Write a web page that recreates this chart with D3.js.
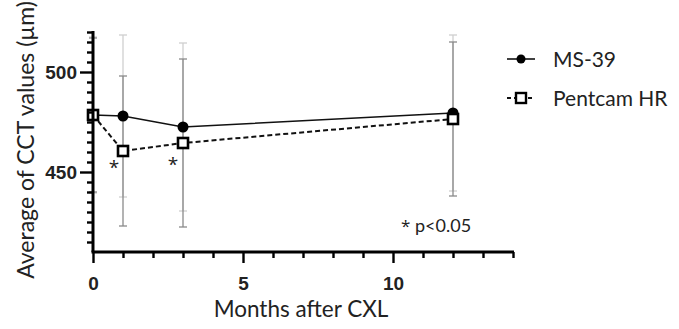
<!DOCTYPE html>
<html>
<head>
<meta charset="utf-8">
<script src="https://cdn.jsdelivr.net/npm/d3@7"></script>
<style>
  body { margin: 0; background: #fff; }
  svg { display: block; font-family: Lato, "Open Sans", sans-serif; }
</style>
</head>
<body>
<div id="chart"></div>
<script>
// values
const months = [0, 1, 3, 12];
const ms39Mean = [478.5, 478, 472.5, 479.5];
const ms39SD = [39, 40.5, 42, 39];
const pentMean = [478.5, 460.5, 464.5, 476.5];
const pentSD = [38.5, 37.5, 42, 38.5];
const xMajor = [0, 5, 10];
const yMajor = [450, 500];
const seriesNames = ["MS-39", "Pentcam HR"];

const width = 679, height = 329;
const svg = d3.select("#chart").append("svg")
  .attr("width", width).attr("height", height);

const x = d3.scaleLinear().domain([0, 14]).range([93, 513]);
const y = d3.scaleLinear().domain([410, 520]).range([252, 32]);

// error bars: MS-39 light, Pentcam darker on top
function errorBars(mean, sd, color) {
  const g = svg.append("g").attr("stroke", color).attr("stroke-width", 1.3);
  months.forEach((m, i) => {
    const cx = x(m), lo = y(mean[i] - sd[i]), hi = y(mean[i] + sd[i]);
    g.append("line").attr("x1", cx).attr("x2", cx).attr("y1", lo).attr("y2", hi);
    g.append("line").attr("x1", cx - 4).attr("x2", cx + 4).attr("y1", lo).attr("y2", lo);
    g.append("line").attr("x1", cx - 4).attr("x2", cx + 4).attr("y1", hi).attr("y2", hi);
  });
}
errorBars(ms39Mean, ms39SD, "#cfcfcf");
errorBars(pentMean, pentSD, "#8a8a8a");

// lines
const line = d3.line().x((d, i) => x(months[i])).y(d => y(d));
svg.append("path").datum(pentMean).attr("d", line)
  .attr("fill", "none").attr("stroke", "#111").attr("stroke-width", 2)
  .attr("stroke-dasharray", "5,3");
svg.append("path").datum(ms39Mean).attr("d", line)
  .attr("fill", "none").attr("stroke", "#111").attr("stroke-width", 1.6);

// markers
svg.selectAll(".ms").data(ms39Mean).enter().append("circle")
  .attr("cx", (d, i) => x(months[i])).attr("cy", d => y(d)).attr("r", 5.5)
  .attr("fill", "#000");
svg.selectAll(".pc").data(pentMean).enter().append("rect")
  .attr("x", (d, i) => x(months[i]) - 5).attr("y", d => y(d) - 5)
  .attr("width", 10).attr("height", 10)
  .attr("fill", "#fff").attr("stroke", "#000").attr("stroke-width", 2.6);

// axes
const xAxis = svg.append("g").attr("transform", `translate(0,${y(410)})`);
xAxis.call(d3.axisBottom(x).tickValues(d3.range(0, 15)).tickSize(6).tickFormat(""));
xAxis.selectAll(".tick line").attr("stroke-width", 2.4)
  .attr("y2", d => xMajor.includes(d) ? 11 : 6);
xAxis.select(".domain").attr("stroke-width", 3).attr("d", `M${x(0) - 1.5},0H${x(14) + 1}`);
xAxis.selectAll(".tick").filter(d => xMajor.includes(d)).append("text")
  .attr("y", 38).attr("fill", "#222").attr("text-anchor", "middle")
  .attr("font-size", 19).attr("font-weight", 700).text(d => d);

const yAxis = svg.append("g").attr("transform", `translate(${x(0)},0)`);
yAxis.call(d3.axisLeft(y).tickValues(d3.range(415, 521, 5)).tickSize(6).tickFormat(""));
yAxis.selectAll(".tick line").attr("stroke-width", 2.4)
  .attr("x2", d => yMajor.includes(d) ? -13 : -6);
yAxis.select(".domain").attr("stroke-width", 3).attr("d", `M0,${y(520) - 1}V${y(410)}`);
yAxis.selectAll(".tick").filter(d => yMajor.includes(d)).append("text")
  .attr("x", -16).attr("dy", "0.36em").attr("fill", "#222").attr("text-anchor", "end")
  .attr("font-size", 19).attr("font-weight", 700).text(d => d);

// titles
svg.append("text").attr("x", 301).attr("y", 317).attr("text-anchor", "middle")
  .attr("font-size", 22.5).attr("fill", "#222").text("Months after CXL");
svg.append("text").attr("transform", "translate(34,140) rotate(-90)")
  .attr("text-anchor", "middle").attr("font-size", 23).attr("fill", "#222")
  .text("Average of CCT values (µm)");

// significance marks
svg.append("text").attr("x", x(1) - 9).attr("y", 174).attr("text-anchor", "middle")
  .attr("font-family", "Open Sans").attr("font-size", 19).attr("fill", "#222").text("*");
svg.append("text").attr("x", x(3) - 10).attr("y", 171).attr("text-anchor", "middle")
  .attr("font-family", "Open Sans").attr("font-size", 19).attr("fill", "#222").text("*");
const note = svg.append("text").attr("x", 401).attr("y", 232)
  .attr("font-size", 18).attr("fill", "#222");
note.append("tspan").attr("font-family", "Open Sans").attr("font-size", 17).text("*");
note.append("tspan").text(" p<0.05");

// legend
const leg = svg.append("g");
seriesNames.forEach((name, i) => {
  const ly = 59 + i * 39;
  leg.append("line").attr("x1", 507).attr("x2", 535).attr("y1", ly).attr("y2", ly)
    .attr("stroke", "#111").attr("stroke-width", i ? 2 : 1.6)
    .attr("stroke-dasharray", i ? "4,3" : null);
  if (i === 0) {
    leg.append("circle").attr("cx", 521).attr("cy", ly).attr("r", 4.5).attr("fill", "#000");
  } else {
    leg.append("rect").attr("x", 516).attr("y", ly - 5).attr("width", 10).attr("height", 10)
      .attr("fill", "#fff").attr("stroke", "#000").attr("stroke-width", 2.4);
  }
  leg.append("text").attr("x", 553).attr("y", ly).attr("dy", "0.36em")
    .attr("font-size", 21).attr("fill", "#222").text(name);
});
</script>
</body>
</html>
